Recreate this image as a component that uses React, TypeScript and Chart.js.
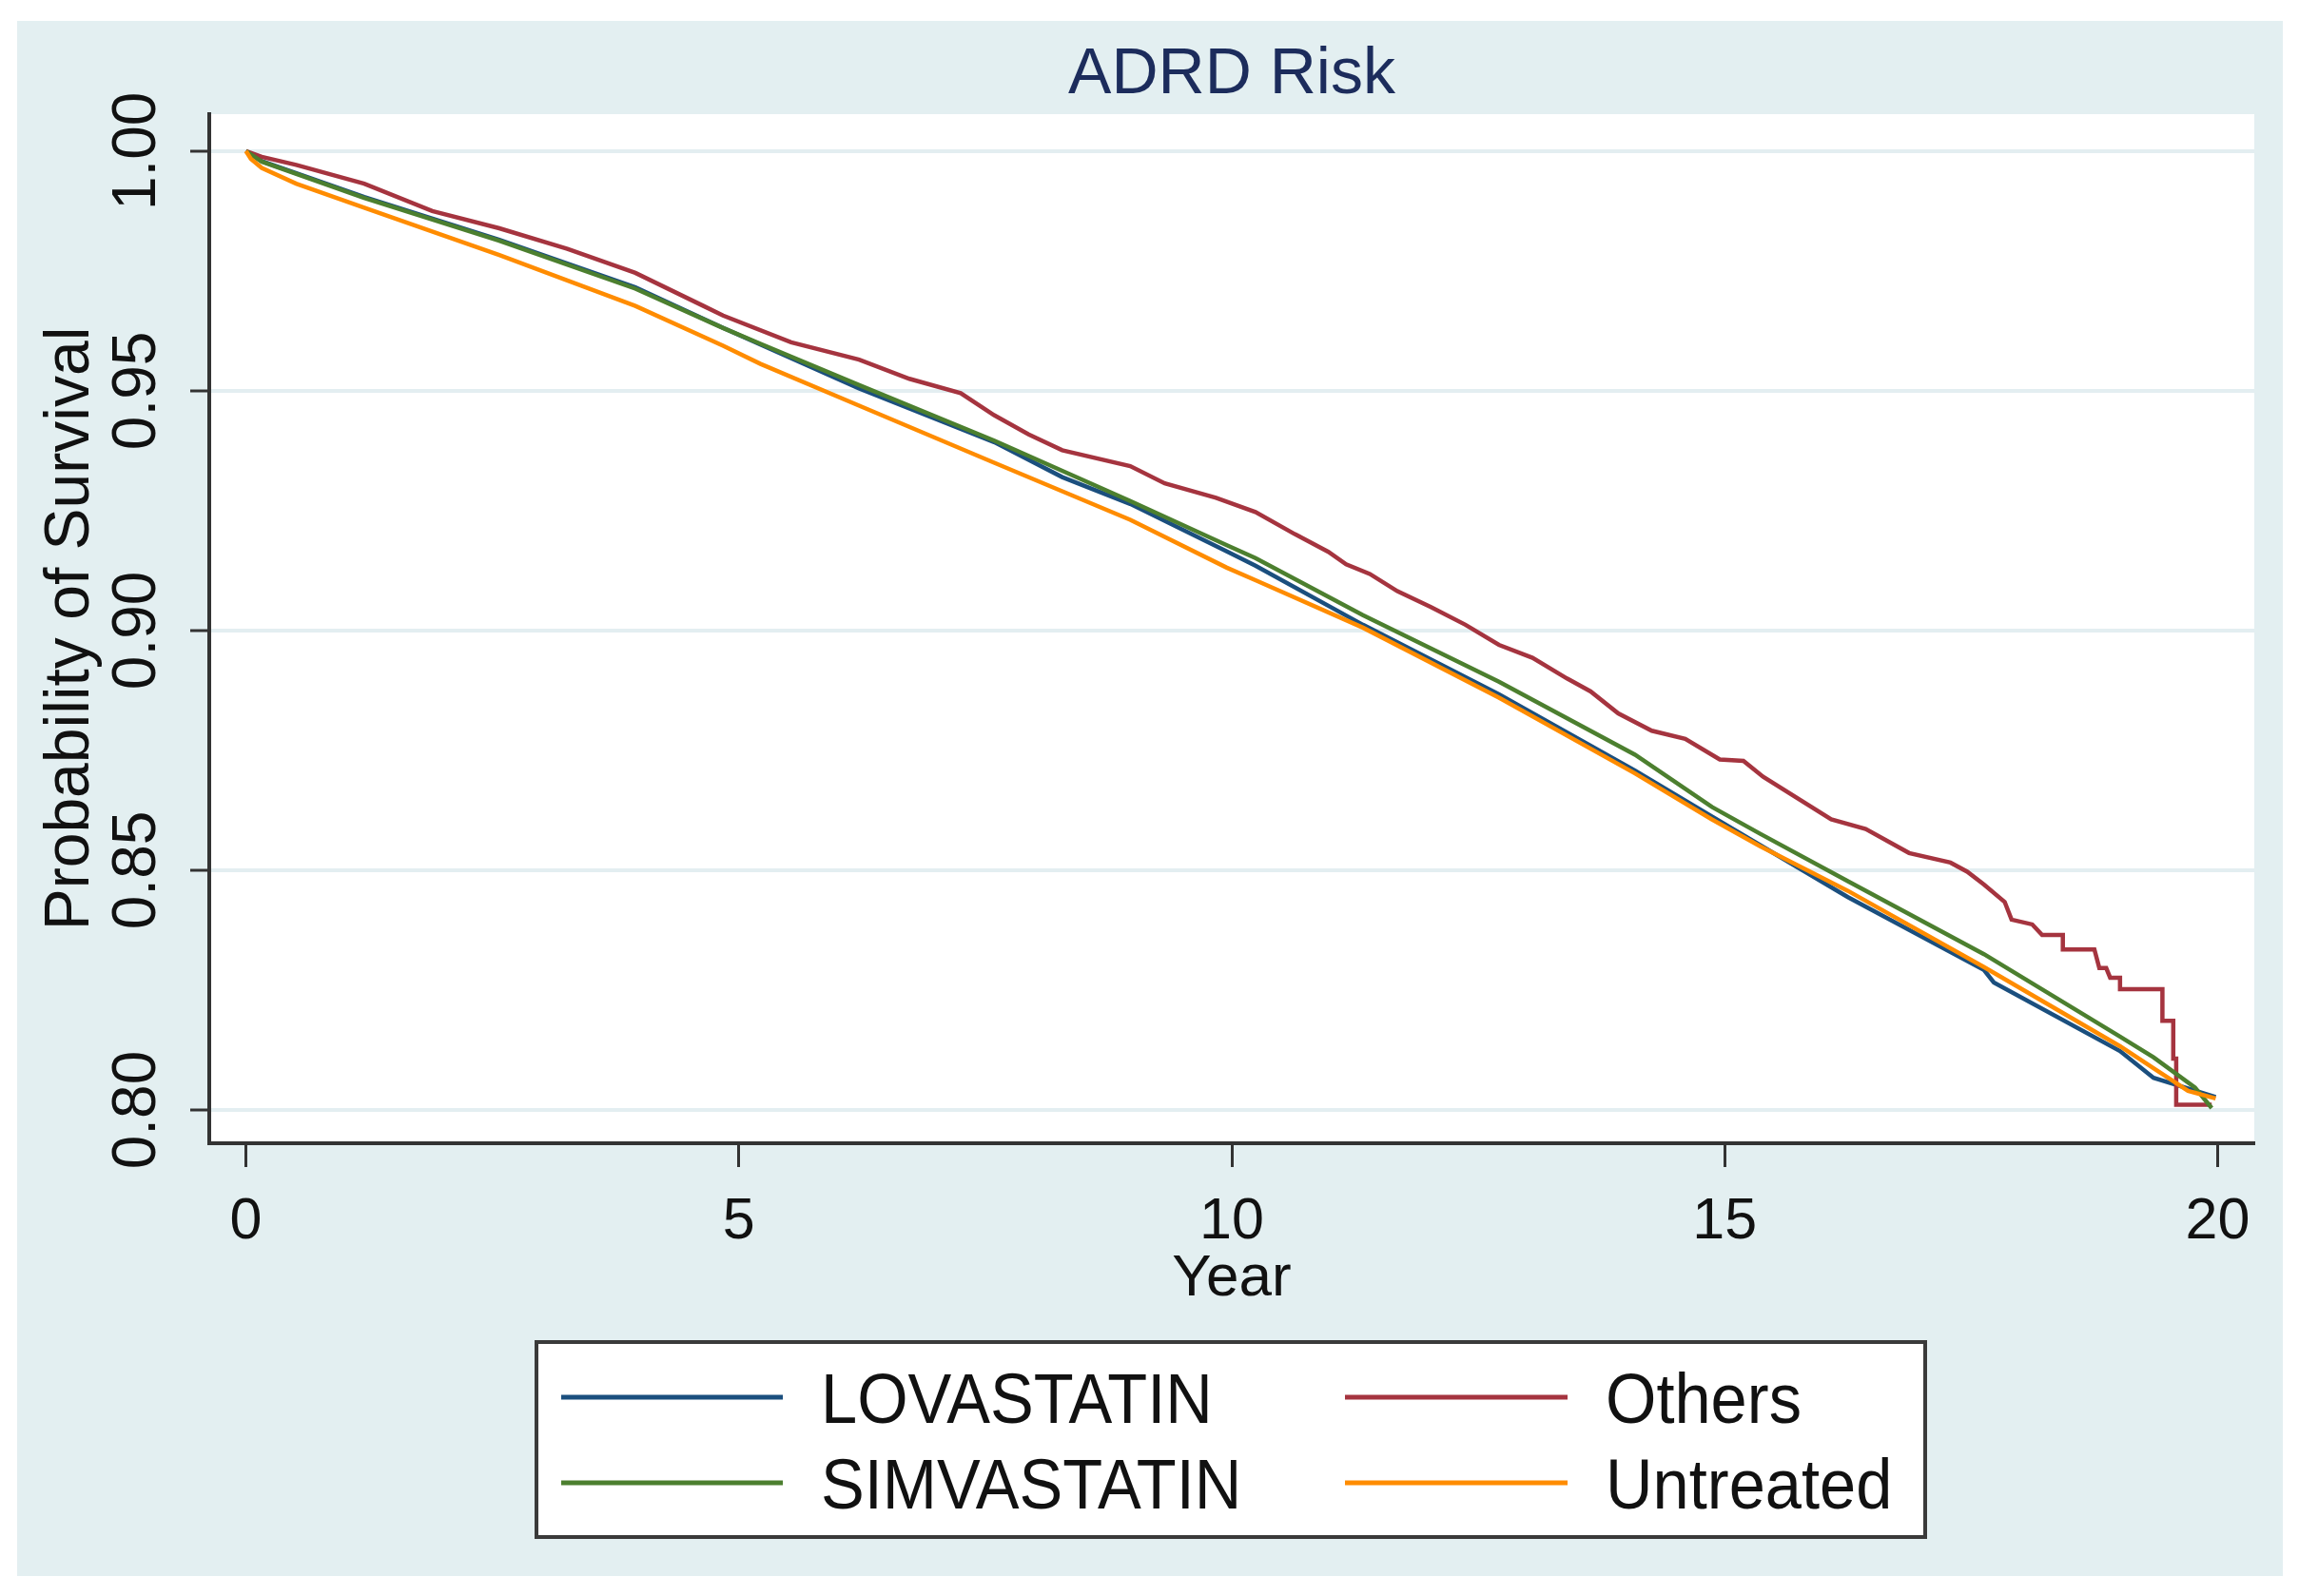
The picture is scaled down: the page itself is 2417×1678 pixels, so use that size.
import React, { useEffect, useRef } from 'react';
import { Chart, registerables } from 'chart.js';

Chart.register(...registerables);

// ---------- data ----------
const chartTitle = 'ADRD Risk';
const xAxisTitle = 'Year';
const yAxisTitle = 'Probability of Survival';

const seriesNames = ['LOVASTATIN', 'Others', 'SIMVASTATIN', 'Untreated'];
const seriesColors = ['#1b4f7e', '#a5343f', '#4c7f2f', '#ff8c00'];

const xTicks = [0, 5, 10, 15, 20];
const xTickLabels = ['0', '5', '10', '15', '20'];
const yTicks = [0.8, 0.85, 0.9, 0.95, 1.0];
const yTickLabels = ['0.80', '0.85', '0.90', '0.95', '1.00'];

const lovastatinYears = [0, 0.16, 1.2, 2.57, 3.95, 4.84, 6.22, 7.59, 8.28, 8.97, 9.95, 10.24, 11.33, 12.71, 14.09, 14.87, 16.25, 17.63, 17.73, 19.01, 19.35, 19.98];
const lovastatinSurvival = [1.0, 0.9979, 0.9904, 0.9815, 0.9716, 0.9631, 0.9505, 0.9393, 0.932, 0.9264, 0.9165, 0.9135, 0.9012, 0.8867, 0.8708, 0.8612, 0.8444, 0.8292, 0.8266, 0.8123, 0.8067, 0.8027];

const othersYears = [0, 0.16, 0.51, 1.2, 1.89, 2.57, 3.26, 3.95, 4.64, 4.84, 5.53, 6.22, 6.73, 7.25, 7.59, 7.94, 8.28, 8.97, 9.32, 9.84, 10.24, 10.64, 10.98, 11.16, 11.4, 11.68, 12.02, 12.37, 12.71, 13.05, 13.4, 13.64, 13.92, 14.26, 14.6, 14.95, 15.19, 15.39, 16.08, 16.43, 16.87, 17.29, 17.46, 17.63, 17.84, 17.91, 18.12, 18.22, 18.43, 18.43, 18.75, 18.8, 18.87, 18.91, 19.01, 19.01, 19.44, 19.44, 19.55, 19.55, 19.58, 19.58, 19.94];
const othersSurvival = [1.0, 0.9988, 0.9971, 0.9932, 0.9875, 0.9839, 0.9796, 0.9746, 0.9677, 0.9657, 0.9601, 0.9565, 0.9525, 0.9495, 0.9449, 0.9409, 0.9376, 0.9343, 0.9307, 0.9277, 0.9247, 0.9201, 0.9164, 0.9138, 0.9118, 0.9082, 0.9049, 0.9012, 0.897, 0.8943, 0.89, 0.8873, 0.8827, 0.8791, 0.8774, 0.8731, 0.8728, 0.8695, 0.8606, 0.8586, 0.8536, 0.8516, 0.8497, 0.847, 0.8434, 0.8397, 0.8387, 0.8365, 0.8365, 0.8335, 0.8335, 0.8296, 0.8296, 0.8276, 0.8276, 0.8252, 0.8252, 0.8186, 0.8186, 0.8107, 0.8107, 0.8011, 0.8011];

const simvastatinYears = [0, 0.16, 1.2, 2.57, 3.95, 4.84, 5.22, 6.22, 7.59, 8.97, 9.95, 10.24, 11.33, 12.71, 14.09, 14.87, 15.36, 16.25, 17.63, 19.01, 19.35, 19.77, 19.94];
const simvastatinSurvival = [1.0, 0.9978, 0.9902, 0.9813, 0.9713, 0.9631, 0.9598, 0.9512, 0.9396, 0.927, 0.9178, 0.9151, 0.9032, 0.8893, 0.8741, 0.8632, 0.8576, 0.8477, 0.8325, 0.8153, 0.811, 0.8047, 0.8004];

const untreatedYears = [0, 0.05, 0.16, 0.51, 1.2, 2.57, 3.95, 4.84, 5.22, 6.22, 7.59, 8.97, 9.95, 10.24, 11.33, 12.71, 14.09, 14.87, 15.36, 16.25, 17.63, 19.01, 19.35, 19.7, 19.98];
const untreatedSurvival = [1.0, 0.9984, 0.9965, 0.9932, 0.9882, 0.9783, 0.9677, 0.9594, 0.9556, 0.9469, 0.935, 0.9231, 0.9131, 0.9105, 0.9006, 0.886, 0.8702, 0.8606, 0.855, 0.8457, 0.8298, 0.8133, 0.8087, 0.804, 0.8024];

const seriesYears = [lovastatinYears, othersYears, simvastatinYears, untreatedYears];
const seriesSurvival = [lovastatinSurvival, othersSurvival, simvastatinSurvival, untreatedSurvival];

// ---------- layout / style ----------
const W = 2417;
const H = 1678;
const FONT = '"Liberation Sans", Arial, Helvetica, sans-serif';
const BG = '#e3eff1';
const AXIS = '#333333';
const TEXT = '#111111';

const stataPlugin = {
  id: 'stataFrame',
  beforeDraw(chart: any) {
    const { ctx, chartArea } = chart;
    ctx.save();
    ctx.fillStyle = '#ffffff';
    ctx.fillRect(0, 0, chart.width, chart.height);
    ctx.fillStyle = BG;
    ctx.fillRect(18, 22, 2382, 1635);
    ctx.fillStyle = '#ffffff';
    ctx.fillRect(chartArea.left, chartArea.top, chartArea.right - chartArea.left, chartArea.bottom - chartArea.top);
    ctx.restore();
  },
  afterDraw(chart: any) {
    const { ctx, chartArea } = chart;
    ctx.save();
    // title
    ctx.font = `68px ${FONT}`;
    ctx.fillStyle = '#1c2c5c';
    ctx.textAlign = 'center';
    ctx.textBaseline = 'alphabetic';
    ctx.fillText(chartTitle, (chartArea.left + chartArea.right) / 2, 98);

    // legend
    const lx = 564, ly = 1411, lw = 1460, lh = 205;
    ctx.fillStyle = '#ffffff';
    ctx.fillRect(lx, ly, lw, lh);
    ctx.strokeStyle = '#3a3a3a';
    ctx.lineWidth = 4;
    ctx.strokeRect(lx, ly, lw, lh);
    const cols = [
      { x0: 590, x1: 823, tx: 863 },
      { x0: 1414, x1: 1648, tx: 1688 },
    ];
    const rows = [1469, 1559];
    chart.data.datasets.forEach((ds: any, i: number) => {
      const c = cols[i % 2];
      const ry = rows[Math.floor(i / 2)];
      ctx.strokeStyle = ds.borderColor;
      ctx.lineWidth = 5;
      ctx.lineCap = 'butt';
      ctx.beginPath();
      ctx.moveTo(c.x0, ry);
      ctx.lineTo(c.x1, ry);
      ctx.stroke();
      ctx.save();
      ctx.translate(c.tx, ry + 27);
      ctx.scale(0.915, 1);
      ctx.font = `75px ${FONT}`;
      ctx.fillStyle = TEXT;
      ctx.textAlign = 'left';
      ctx.textBaseline = 'alphabetic';
      ctx.fillText(ds.label, 0, 0);
      ctx.restore();
    });
    ctx.restore();
  },
};

export default function App() {
  const canvasRef = useRef<HTMLCanvasElement | null>(null);

  useEffect(() => {
    if (!canvasRef.current) return;
    const datasets = seriesNames.map((name, i) => ({
      label: name,
      data: seriesYears[i].map((t, j) => ({ x: t, y: seriesSurvival[i][j] })),
      borderColor: seriesColors[i],
      backgroundColor: seriesColors[i],
      borderWidth: 4.5,
      pointRadius: 0,
      pointHoverRadius: 0,
      fill: false,
      tension: 0,
      order: seriesNames.length - i,
    }));

    const chart = new Chart(canvasRef.current, {
      type: 'line',
      data: { datasets },
      plugins: [stataPlugin],
      options: {
        animation: false,
        responsive: false,
        maintainAspectRatio: false,
        events: [],
        layout: { padding: { left: 31, top: 120, right: 47, bottom: 294 } },
        plugins: {
          legend: { display: false },
          title: { display: false },
          tooltip: { enabled: false },
        },
        scales: {
          x: {
            type: 'linear',
            min: -0.372,
            max: 20.372,
            afterBuildTicks: (s: any) => {
              s.ticks = xTicks.map((v) => ({ value: v }));
            },
            afterFit: (s: any) => {
              s.height = 182;
            },
            ticks: {
              autoSkip: false,
              minRotation: 0,
              maxRotation: 0,
              padding: 22,
              color: TEXT,
              font: { family: FONT, size: 61 },
              callback: (v: any) => {
                const k = xTicks.indexOf(Number(v));
                return k >= 0 ? xTickLabels[k] : '';
              },
            },
            grid: {
              drawOnChartArea: false,
              drawTicks: true,
              tickLength: 25,
              tickColor: AXIS,
              tickWidth: 3,
            },
            border: { display: true, color: AXIS, width: 4 },
            title: {
              display: true,
              text: xAxisTitle,
              color: TEXT,
              font: { family: FONT, size: 62 },
              padding: { top: 0, bottom: 2 },
            },
          },
          y: {
            type: 'linear',
            min: 0.79306,
            max: 1.0077,
            afterBuildTicks: (s: any) => {
              s.ticks = yTicks.map((v) => ({ value: v }));
            },
            afterFit: (s: any) => {
              s.width = 189;
            },
            ticks: {
              autoSkip: false,
              minRotation: 90,
              maxRotation: 90,
              crossAlign: 'center',
              padding: -8,
              color: TEXT,
              font: { family: FONT, size: 64 },
              callback: (v: any) => {
                const k = yTicks.findIndex((t) => Math.abs(t - Number(v)) < 1e-9);
                return k >= 0 ? yTickLabels[k] : '';
              },
            },
            grid: {
              color: '#e3eef1',
              lineWidth: 4,
              drawTicks: true,
              tickLength: 20,
              tickColor: AXIS,
              tickWidth: 3,
            },
            border: { display: true, color: AXIS, width: 4 },
            title: {
              display: true,
              text: yAxisTitle,
              color: TEXT,
              font: { family: FONT, size: 66 },
              padding: { top: 4, bottom: 4 },
            },
          },
        },
      } as any,
    });
    return () => chart.destroy();
  }, []);

  return (
    <div style={{ position: 'absolute', left: 0, top: 0, width: W, height: H, background: '#ffffff' }}>
      <canvas ref={canvasRef} width={W} height={H} style={{ display: 'block', width: W, height: H }} />
    </div>
  );
}
